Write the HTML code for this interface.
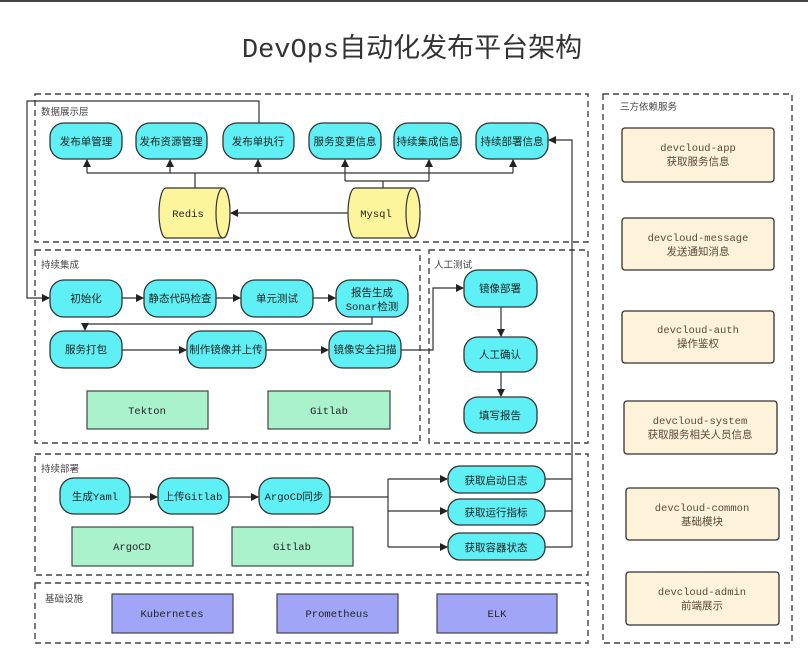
<!DOCTYPE html>
<html><head><meta charset="utf-8"><style>
html,body{margin:0;padding:0;background:#fff;}
svg{display:block;}
text{font-family:"Liberation Sans","Noto Sans CJK SC",sans-serif;font-size:10.5px;fill:#222;}
.m{font-family:"Liberation Mono","Noto Sans CJK SC",monospace;font-size:10.5px;}
.c{fill:#5ef0f5;stroke:#333;stroke-width:1.3;}
.g{fill:#a9f2cc;stroke:#444;stroke-width:1.2;}
.p{fill:#a0a5f8;stroke:#444;stroke-width:1.2;}
.b{fill:#fdf2da;stroke:#333;stroke-width:1.3;}
.d{fill:none;stroke:#444;stroke-width:1.4;stroke-dasharray:6,4;}
.l{fill:none;stroke:#333;stroke-width:1.2;}
.y{fill:#fdf59c;stroke:#333;stroke-width:1.2;}
.lab{font-size:9.5px;fill:#444;}
.r{fill:#5a4a3a;}
</style></head><body>
<svg width="808" height="661" viewBox="0 0 808 661" xmlns="http://www.w3.org/2000/svg">
<defs><marker id="a" markerWidth="8" markerHeight="8" refX="7" refY="4" orient="auto" markerUnits="userSpaceOnUse"><path d="M0,0 L8,4 L0,8 z" fill="#222"/></marker></defs>
<rect x="0" y="0" width="808" height="2" fill="#444"/>
<text x="412" y="57" text-anchor="middle" style="font-family:'Liberation Mono','Noto Sans CJK SC',monospace;font-size:27px;fill:#333">DevOps自动化发布平台架构</text>

<rect class="d" x="35" y="94" width="553" height="148"/>
<rect class="d" x="35" y="250" width="385" height="193"/>
<rect class="d" x="429" y="250" width="159" height="193"/>
<rect class="d" x="35" y="454" width="553" height="121"/>
<rect class="d" x="35" y="583" width="553" height="60"/>
<rect class="d" x="603" y="94" width="189" height="549"/>
<text class="lab" x="41" y="115">数据展示层</text>
<text class="lab" x="41" y="268">持续集成</text>
<text class="lab" x="434" y="268">人工测试</text>
<text class="lab" x="41" y="472">持续部署</text>
<text class="lab" x="45" y="602">基础设施</text>
<text class="lab" x="620" y="110">三方依赖服务</text>

<g text-anchor="middle">
<rect class="c" x="50" y="123" width="72" height="36" rx="14"/><text x="86" y="145">发布单管理</text>
<rect class="c" x="136" y="123" width="71" height="36" rx="14"/><text x="171" y="145">发布资源管理</text>
<rect class="c" x="223" y="123" width="71" height="36" rx="14"/><text x="258" y="145">发布单执行</text>
<rect class="c" x="309" y="123" width="72" height="36" rx="14"/><text x="345" y="145">服务变更信息</text>
<rect class="c" x="394" y="123" width="67" height="36" rx="14"/><text x="428" y="145">持续集成信息</text>
<rect class="c" x="476" y="123" width="72" height="36" rx="14"/><text x="512" y="145">持续部署信息</text>
</g>
<path class="l" d="M87,173 H513"/>
<g class="l">
<path d="M87,173 V160" marker-end="url(#a)"/><path d="M170,173 V160" marker-end="url(#a)"/><path d="M258,173 V160" marker-end="url(#a)"/><path d="M345,181 V160" marker-end="url(#a)"/><path d="M429,181 V160" marker-end="url(#a)"/><path d="M513,173 V160" marker-end="url(#a)"/>
</g>
<path class="l" d="M195,173 V188 M345,181 H429 M383,181 V188"/>
<path class="y" d="M166,188 H223 A7,25 0 0 1 223,238 H166 A7,25 0 0 1 166,188 z"/>
<ellipse class="y" cx="223" cy="213" rx="7" ry="25"/>
<text class="m" x="188" y="217" text-anchor="middle">Redis</text>
<path class="y" d="M355,188 H413 A7,25 0 0 1 413,238 H355 A7,25 0 0 1 355,188 z"/>
<ellipse class="y" cx="413" cy="213" rx="7" ry="25"/>
<text class="m" x="376" y="217" text-anchor="middle">Mysql</text>
<path class="l" d="M348,213 H231" marker-end="url(#a)"/>

<path class="l" d="M259,123 V101 H27 V298 H49" marker-end="url(#a)"/>
<path class="l" d="M545,479 H572 M545,511 H572 M545,547 H572 M572,547 V140 H549" marker-end="url(#a)"/>

<g text-anchor="middle">
<rect class="c" x="50" y="280" width="72" height="37" rx="14"/><text x="86" y="302">初始化</text>
<rect class="c" x="144" y="280" width="72" height="37" rx="14"/><text x="180" y="302">静态代码检查</text>
<rect class="c" x="241" y="280" width="72" height="37" rx="14"/><text x="277" y="302">单元测试</text>
<rect class="c" x="336" y="280" width="72" height="37" rx="14"/><text x="372" y="296">报告生成</text><text class="m" x="372" y="310">Sonar检测</text>
<rect class="c" x="50" y="331" width="72" height="37" rx="14"/><text x="86" y="353">服务打包</text>
<rect class="c" x="187" y="331" width="79" height="37" rx="14"/><text x="226" y="353">制作镜像并上传</text>
<rect class="c" x="329" y="331" width="72" height="37" rx="14"/><text x="365" y="353">镜像安全扫描</text>
<rect class="g" x="87" y="391" width="121" height="38"/><text class="m" x="147" y="414">Tekton</text>
<rect class="g" x="268" y="391" width="122" height="38"/><text class="m" x="329" y="414">Gitlab</text>
</g>
<g class="l">
<path d="M122,298 H143" marker-end="url(#a)"/><path d="M216,298 H240" marker-end="url(#a)"/><path d="M313,298 H335" marker-end="url(#a)"/>
<path d="M372,317 V324 H85 V330" marker-end="url(#a)"/>
<path d="M122,350 H186" marker-end="url(#a)"/><path d="M266,350 H328" marker-end="url(#a)"/>
<path d="M401,350 H433 V288 H463" marker-end="url(#a)"/>
<path d="M501,307 V336" marker-end="url(#a)"/><path d="M501,372 V396" marker-end="url(#a)"/>
</g>
<g text-anchor="middle">
<rect class="c" x="464" y="270" width="73" height="37" rx="14"/><text x="500" y="292">镜像部署</text>
<rect class="c" x="464" y="337" width="73" height="35" rx="14"/><text x="500" y="358">人工确认</text>
<rect class="c" x="464" y="397" width="73" height="36" rx="14"/><text x="500" y="419">填写报告</text>
</g>

<g text-anchor="middle">
<rect class="c" x="60" y="478" width="70" height="36" rx="14"/><text class="m" x="95" y="500">生成Yaml</text>
<rect class="c" x="158" y="478" width="71" height="36" rx="14"/><text class="m" x="193" y="500">上传Gitlab</text>
<rect class="c" x="259" y="478" width="71" height="36" rx="14"/><text class="m" x="294" y="500">ArgoCD同步</text>
<rect class="c" x="448" y="466" width="97" height="27" rx="12"/><text x="496" y="484">获取启动日志</text>
<rect class="c" x="448" y="499" width="97" height="26" rx="12"/><text x="496" y="516">获取运行指标</text>
<rect class="c" x="448" y="533" width="97" height="27" rx="12"/><text x="496" y="551">获取容器状态</text>
<rect class="g" x="72" y="527" width="121" height="39"/><text class="m" x="132" y="550">ArgoCD</text>
<rect class="g" x="232" y="527" width="121" height="39"/><text class="m" x="292" y="550">Gitlab</text>
<rect class="p" x="112" y="594" width="121" height="39"/><text class="m" x="172" y="617">Kubernetes</text>
<rect class="p" x="277" y="594" width="121" height="39"/><text class="m" x="337" y="617">Prometheus</text>
<rect class="p" x="437" y="594" width="120" height="39"/><text class="m" x="497" y="617">ELK</text>
</g>
<g class="l">
<path d="M130,497 H157" marker-end="url(#a)"/><path d="M229,497 H258" marker-end="url(#a)"/>
<path d="M330,497 H388"/><path d="M388,479 V547"/>
<path d="M388,479 H447" marker-end="url(#a)"/><path d="M388,511 H447" marker-end="url(#a)"/><path d="M388,547 H447" marker-end="url(#a)"/>
</g>

<g text-anchor="middle">
<rect class="b" x="622" y="128" width="152" height="54" rx="3"/><text class="m r" x="698" y="151">devcloud-app</text><text class="r" x="698" y="165">获取服务信息</text>
<rect class="b" x="622" y="218" width="152" height="52" rx="3"/><text class="m r" x="698" y="241">devcloud-message</text><text class="r" x="698" y="255">发送通知消息</text>
<rect class="b" x="622" y="311" width="152" height="52" rx="3"/><text class="m r" x="698" y="333">devcloud-auth</text><text class="r" x="698" y="347">操作鉴权</text>
<rect class="b" x="624" y="401" width="153" height="53" rx="3"/><text class="m r" x="700" y="424">devcloud-system</text><text class="r" x="700" y="438">获取服务相关人员信息</text>
<rect class="b" x="626" y="488" width="153" height="52" rx="3"/><text class="m r" x="702" y="511">devcloud-common</text><text class="r" x="702" y="525">基础模块</text>
<rect class="b" x="626" y="572" width="153" height="53" rx="3"/><text class="m r" x="702" y="595">devcloud-admin</text><text class="r" x="702" y="609">前端展示</text>
</g>
</svg>
</body></html>
